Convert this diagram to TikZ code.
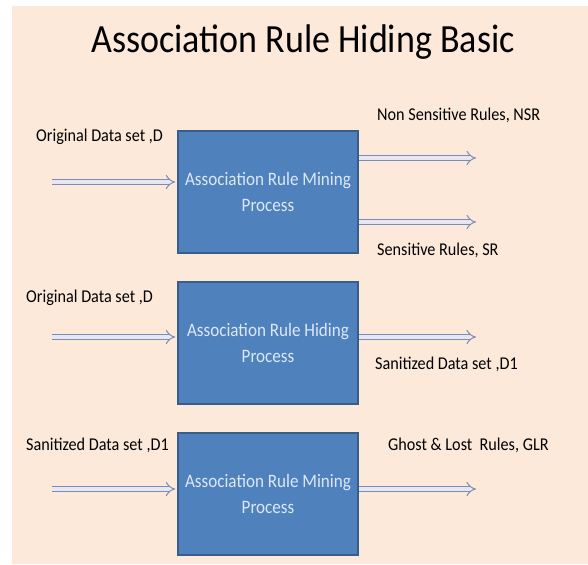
\documentclass[tikz,border=0pt]{standalone}
\usepackage{fontspec}
\setmainfont{Carlito}[FakeStretch=0.9]
\usetikzlibrary{arrows.meta}
\definecolor{slidebg}{RGB}{253,233,218}
\definecolor{boxfill}{RGB}{79,129,189}
\definecolor{boxline}{RGB}{56,93,138}
\definecolor{boxtext}{RGB}{221,232,246}
\definecolor{flowline}{RGB}{120,142,185}
\definecolor{flowfill}{RGB}{232,230,240}
\tikzset{
  process/.style={draw=boxline, line width=1.5pt, fill=boxfill,
    minimum width=180pt, minimum height=122pt, text=boxtext,
    align=center, font=\fontsize{19}{26}\selectfont},
  datalabel/.style={anchor=base west, inner sep=0pt, text=black,
    font=\fontsize{18}{22}\selectfont},
  flow/.style={draw=flowline, line width=1pt, double=flowfill,
    double distance=4pt, shorten >=2pt, -{Implies}},
}

\begin{document}
\begin{tikzpicture}[x=1pt,y=1pt]
  \useasboundingbox (0,0) rectangle (588,564);
  \fill[slidebg] (12,0) rectangle (588,558);
  \node[anchor=base, text=black, font=\fontsize{40}{48}\selectfont] (title) at (303,511) {Association Rule Hiding Basic};

  % first mining step
  \node[process] (mine1) at (268,372) {Association Rule Mining\\Process};
  \node[datalabel] (orig1) at (36,422) {Original Data set ,D};
  \node[datalabel] (nsrtext) at (377,443) {Non Sensitive Rules, NSR};
  \node[datalabel] (srtext) at (377,308) {Sensitive Rules, SR};
  \coordinate (in1) at (52,382);
  \coordinate (nsr) at (478,406);
  \coordinate (sr) at (478,342);
  \draw[flow] (in1) -- (mine1.west |- in1);
  \draw[flow] (mine1.east |- nsr) -- (nsr);
  \draw[flow] (mine1.east |- sr) -- (sr);

  % hiding step
  \node[process] (hide) at (268,221) {Association Rule Hiding\\Process};
  \node[datalabel] (orig2) at (26,261) {Original Data set ,D};
  \node[datalabel] (santext) at (375,194) {Sanitized Data set ,D1};
  \coordinate (in2) at (52,227);
  \coordinate (san) at (478,227);
  \draw[flow] (in2) -- (hide.west |- in2);
  \draw[flow] (hide.east |- san) -- (san);

  % second mining step
  \node[process] (mine2) at (268,70) {Association Rule Mining\\Process};
  \node[datalabel] (san2) at (26,113) {Sanitized Data set ,D1};
  \node[datalabel] (glrtext) at (388,113) {Ghost \& Lost\ \ Rules, GLR};
  \coordinate (in3) at (52,75);
  \coordinate (glr) at (478,75);
  \draw[flow] (in3) -- (mine2.west |- in3);
  \draw[flow] (mine2.east |- glr) -- (glr);
\end{tikzpicture}
\end{document}
